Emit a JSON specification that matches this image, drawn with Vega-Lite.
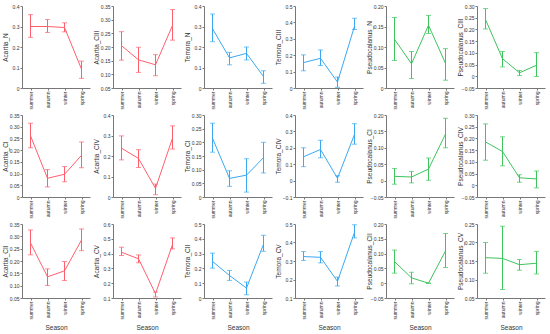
{
"$schema":"https://vega.github.io/schema/vega-lite/v6.json",
"padding":{"left":2,"top":4,"right":2,"bottom":2},
"datasets":{"d":[
{"panel":"Acartia_N","season":"summer","mean":0.30,"lo":0.247,"hi":0.358},
{"panel":"Acartia_N","season":"autumn","mean":0.30,"lo":0.271,"hi":0.334},
{"panel":"Acartia_N","season":"winter","mean":0.295,"lo":0.274,"hi":0.318},
{"panel":"Acartia_N","season":"spring","mean":0.092,"lo":0.047,"hi":0.131},
{"panel":"Acartia_CIII","season":"summer","mean":0.205,"lo":0.152,"hi":0.256},
{"panel":"Acartia_CIII","season":"autumn","mean":0.153,"lo":0.107,"hi":0.199},
{"panel":"Acartia_CIII","season":"winter","mean":0.135,"lo":0.095,"hi":0.172},
{"panel":"Acartia_CIII","season":"spring","mean":0.279,"lo":0.225,"hi":0.337},
{"panel":"Temora_N","season":"summer","mean":0.289,"lo":0.226,"hi":0.361},
{"panel":"Temora_N","season":"autumn","mean":0.147,"lo":0.113,"hi":0.174},
{"panel":"Temora_N","season":"winter","mean":0.169,"lo":0.137,"hi":0.2},
{"panel":"Temora_N","season":"spring","mean":0.056,"lo":0.023,"hi":0.084},
{"panel":"Temora_CIII","season":"summer","mean":0.155,"lo":0.105,"hi":0.202},
{"panel":"Temora_CIII","season":"autumn","mean":0.181,"lo":0.137,"hi":0.232},
{"panel":"Temora_CIII","season":"winter","mean":0.036,"lo":0.004,"hi":0.067},
{"panel":"Temora_CIII","season":"spring","mean":0.377,"lo":0.357,"hi":0.425},
{"panel":"Pseudocalanus_N","season":"summer","mean":0.119,"lo":0.067,"hi":0.172},
{"panel":"Pseudocalanus_N","season":"autumn","mean":0.059,"lo":0.023,"hi":0.089},
{"panel":"Pseudocalanus_N","season":"winter","mean":0.153,"lo":0.133,"hi":0.177},
{"panel":"Pseudocalanus_N","season":"spring","mean":0.06,"lo":0.019,"hi":0.096},
{"panel":"Pseudocalanus_CIII","season":"summer","mean":0.242,"lo":0.202,"hi":0.289},
{"panel":"Pseudocalanus_CIII","season":"autumn","mean":0.075,"lo":0.04,"hi":0.106},
{"panel":"Pseudocalanus_CIII","season":"winter","mean":0.015,"lo":0.003,"hi":0.025},
{"panel":"Pseudocalanus_CIII","season":"spring","mean":0.047,"lo":-0.001,"hi":0.101},
{"panel":"Acartia_CI","season":"summer","mean":0.261,"lo":0.21,"hi":0.315},
{"panel":"Acartia_CI","season":"autumn","mean":0.08,"lo":0.043,"hi":0.117},
{"panel":"Acartia_CI","season":"winter","mean":0.097,"lo":0.065,"hi":0.13},
{"panel":"Acartia_CI","season":"spring","mean":0.178,"lo":0.125,"hi":0.235},
{"panel":"Acartia_CIV","season":"summer","mean":0.238,"lo":0.181,"hi":0.298},
{"panel":"Acartia_CIV","season":"autumn","mean":0.188,"lo":0.144,"hi":0.231},
{"panel":"Acartia_CIV","season":"winter","mean":0.042,"lo":0.011,"hi":0.063},
{"panel":"Acartia_CIV","season":"spring","mean":0.287,"lo":0.234,"hi":0.347},
{"panel":"Temora_CI","season":"summer","mean":0.215,"lo":0.164,"hi":0.27},
{"panel":"Temora_CI","season":"autumn","mean":0.068,"lo":0.039,"hi":0.096},
{"panel":"Temora_CI","season":"winter","mean":0.08,"lo":0.018,"hi":0.14},
{"panel":"Temora_CI","season":"spring","mean":0.144,"lo":0.088,"hi":0.2},
{"panel":"Temora_CIV","season":"summer","mean":0.145,"lo":0.085,"hi":0.2},
{"panel":"Temora_CIV","season":"autumn","mean":0.19,"lo":0.139,"hi":0.246},
{"panel":"Temora_CIV","season":"winter","mean":0.014,"lo":-0.01,"hi":0.03},
{"panel":"Temora_CIV","season":"spring","mean":0.282,"lo":0.222,"hi":0.347},
{"panel":"Pseudocalanus_CI","season":"summer","mean":0.013,"lo":-0.011,"hi":0.037},
{"panel":"Pseudocalanus_CI","season":"autumn","mean":0.011,"lo":-0.007,"hi":0.028},
{"panel":"Pseudocalanus_CI","season":"winter","mean":0.035,"lo":0.001,"hi":0.069},
{"panel":"Pseudocalanus_CI","season":"spring","mean":0.142,"lo":0.1,"hi":0.19},
{"panel":"Pseudocalanus_CIV","season":"summer","mean":0.185,"lo":0.107,"hi":0.262},
{"panel":"Pseudocalanus_CIV","season":"autumn","mean":0.144,"lo":0.083,"hi":0.207},
{"panel":"Pseudocalanus_CIV","season":"winter","mean":0.032,"lo":0.013,"hi":0.045},
{"panel":"Pseudocalanus_CIV","season":"spring","mean":0.027,"lo":-0.011,"hi":0.061},
{"panel":"Acartia_CII","season":"summer","mean":0.273,"lo":0.225,"hi":0.326},
{"panel":"Acartia_CII","season":"autumn","mean":0.136,"lo":0.101,"hi":0.168},
{"panel":"Acartia_CII","season":"winter","mean":0.16,"lo":0.121,"hi":0.198},
{"panel":"Acartia_CII","season":"spring","mean":0.285,"lo":0.242,"hi":0.33},
{"panel":"Acartia_CV","season":"summer","mean":0.409,"lo":0.387,"hi":0.443},
{"panel":"Acartia_CV","season":"autumn","mean":0.365,"lo":0.338,"hi":0.391},
{"panel":"Acartia_CV","season":"winter","mean":0.129,"lo":0.107,"hi":0.14},
{"panel":"Acartia_CV","season":"spring","mean":0.461,"lo":0.432,"hi":0.506},
{"panel":"Temora_CII","season":"summer","mean":0.247,"lo":0.202,"hi":0.303},
{"panel":"Temora_CII","season":"autumn","mean":0.152,"lo":0.119,"hi":0.186},
{"panel":"Temora_CII","season":"winter","mean":0.067,"lo":0.022,"hi":0.108},
{"panel":"Temora_CII","season":"spring","mean":0.363,"lo":0.316,"hi":0.424},
{"panel":"Temora_CV","season":"summer","mean":0.324,"lo":0.303,"hi":0.351},
{"panel":"Temora_CV","season":"autumn","mean":0.32,"lo":0.29,"hi":0.351},
{"panel":"Temora_CV","season":"winter","mean":0.19,"lo":0.165,"hi":0.213},
{"panel":"Temora_CV","season":"spring","mean":0.455,"lo":0.425,"hi":0.496},
{"panel":"Pseudocalanus_CII","season":"summer","mean":0.073,"lo":0.034,"hi":0.112},
{"panel":"Pseudocalanus_CII","season":"autumn","mean":0.018,"lo":-0.002,"hi":0.037},
{"panel":"Pseudocalanus_CII","season":"winter","mean":0.0,"lo":0.0,"hi":0.0},
{"panel":"Pseudocalanus_CII","season":"spring","mean":0.109,"lo":0.053,"hi":0.168},
{"panel":"Pseudocalanus_CV","season":"summer","mean":0.159,"lo":0.117,"hi":0.2},
{"panel":"Pseudocalanus_CV","season":"autumn","mean":0.157,"lo":0.073,"hi":0.244},
{"panel":"Pseudocalanus_CV","season":"winter","mean":0.14,"lo":0.125,"hi":0.154},
{"panel":"Pseudocalanus_CV","season":"spring","mean":0.144,"lo":0.115,"hi":0.176}
]},
"columns":6,
"bounds":"flush",
"spacing":{"row":27,"column":23},
"concat":[
{"width":68,"height":82,"data":{"name":"d"},"transform":[{"filter":"datum.panel == 'Acartia_N'"}],
 "encoding":{"x":{"field":"season","type":"nominal","sort":["summer","autumn","winter","spring"],"scale":{"type":"point","padding":0.5},"axis":{"title":null}}},
 "layer":[
 {"mark":{"type":"line","color":"#ff5f6d","strokeWidth":1},"encoding":{"y":{"field":"mean","type":"quantitative","scale":{"domain":[0,0.4],"nice":false,"zero":false},"axis":{"title":"Acartia_N","values":[0,0.1,0.2,0.3,0.4],"labelOverlap":false,"labelExpr":"datum.value == 0 ? '0' : format(datum.value, '.1f')"}}}},
 {"mark":{"type":"rule","color":"#ff5f6d","strokeWidth":1},"encoding":{"y":{"field":"lo","type":"quantitative","axis":{"title":"Acartia_N","values":[0,0.1,0.2,0.3,0.4],"labelOverlap":false,"labelExpr":"datum.value == 0 ? '0' : format(datum.value, '.1f')"}},"y2":{"field":"hi"}}},
 {"mark":{"type":"tick","color":"#ff5f6d","size":5,"thickness":1},"encoding":{"y":{"field":"lo","type":"quantitative","axis":{"title":"Acartia_N","values":[0,0.1,0.2,0.3,0.4],"labelOverlap":false,"labelExpr":"datum.value == 0 ? '0' : format(datum.value, '.1f')"}}}},
 {"mark":{"type":"tick","color":"#ff5f6d","size":5,"thickness":1},"encoding":{"y":{"field":"hi","type":"quantitative","axis":{"title":"Acartia_N","values":[0,0.1,0.2,0.3,0.4],"labelOverlap":false,"labelExpr":"datum.value == 0 ? '0' : format(datum.value, '.1f')"}}}}
 ]},
{"width":68,"height":82,"data":{"name":"d"},"transform":[{"filter":"datum.panel == 'Acartia_CIII'"}],
 "encoding":{"x":{"field":"season","type":"nominal","sort":["summer","autumn","winter","spring"],"scale":{"type":"point","padding":0.5},"axis":{"title":null}}},
 "layer":[
 {"mark":{"type":"line","color":"#ff5f6d","strokeWidth":1},"encoding":{"y":{"field":"mean","type":"quantitative","scale":{"domain":[0.05,0.35],"nice":false,"zero":false},"axis":{"title":"Acartia_CIII","values":[0.05,0.1,0.15,0.2,0.25,0.3,0.35],"labelOverlap":false,"labelExpr":"format(datum.value, '.2f')"}}}},
 {"mark":{"type":"rule","color":"#ff5f6d","strokeWidth":1},"encoding":{"y":{"field":"lo","type":"quantitative","axis":{"title":"Acartia_CIII","values":[0.05,0.1,0.15,0.2,0.25,0.3,0.35],"labelOverlap":false,"labelExpr":"format(datum.value, '.2f')"}},"y2":{"field":"hi"}}},
 {"mark":{"type":"tick","color":"#ff5f6d","size":5,"thickness":1},"encoding":{"y":{"field":"lo","type":"quantitative","axis":{"title":"Acartia_CIII","values":[0.05,0.1,0.15,0.2,0.25,0.3,0.35],"labelOverlap":false,"labelExpr":"format(datum.value, '.2f')"}}}},
 {"mark":{"type":"tick","color":"#ff5f6d","size":5,"thickness":1},"encoding":{"y":{"field":"hi","type":"quantitative","axis":{"title":"Acartia_CIII","values":[0.05,0.1,0.15,0.2,0.25,0.3,0.35],"labelOverlap":false,"labelExpr":"format(datum.value, '.2f')"}}}}
 ]},
{"width":68,"height":82,"data":{"name":"d"},"transform":[{"filter":"datum.panel == 'Temora_N'"}],
 "encoding":{"x":{"field":"season","type":"nominal","sort":["summer","autumn","winter","spring"],"scale":{"type":"point","padding":0.5},"axis":{"title":null}}},
 "layer":[
 {"mark":{"type":"line","color":"#3aa9f2","strokeWidth":1},"encoding":{"y":{"field":"mean","type":"quantitative","scale":{"domain":[0,0.4],"nice":false,"zero":false},"axis":{"title":"Temora_N","values":[0,0.1,0.2,0.3,0.4],"labelOverlap":false,"labelExpr":"datum.value == 0 ? '0' : format(datum.value, '.1f')"}}}},
 {"mark":{"type":"rule","color":"#3aa9f2","strokeWidth":1},"encoding":{"y":{"field":"lo","type":"quantitative","axis":{"title":"Temora_N","values":[0,0.1,0.2,0.3,0.4],"labelOverlap":false,"labelExpr":"datum.value == 0 ? '0' : format(datum.value, '.1f')"}},"y2":{"field":"hi"}}},
 {"mark":{"type":"tick","color":"#3aa9f2","size":5,"thickness":1},"encoding":{"y":{"field":"lo","type":"quantitative","axis":{"title":"Temora_N","values":[0,0.1,0.2,0.3,0.4],"labelOverlap":false,"labelExpr":"datum.value == 0 ? '0' : format(datum.value, '.1f')"}}}},
 {"mark":{"type":"tick","color":"#3aa9f2","size":5,"thickness":1},"encoding":{"y":{"field":"hi","type":"quantitative","axis":{"title":"Temora_N","values":[0,0.1,0.2,0.3,0.4],"labelOverlap":false,"labelExpr":"datum.value == 0 ? '0' : format(datum.value, '.1f')"}}}}
 ]},
{"width":68,"height":82,"data":{"name":"d"},"transform":[{"filter":"datum.panel == 'Temora_CIII'"}],
 "encoding":{"x":{"field":"season","type":"nominal","sort":["summer","autumn","winter","spring"],"scale":{"type":"point","padding":0.5},"axis":{"title":null}}},
 "layer":[
 {"mark":{"type":"line","color":"#3aa9f2","strokeWidth":1},"encoding":{"y":{"field":"mean","type":"quantitative","scale":{"domain":[0,0.5],"nice":false,"zero":false},"axis":{"title":"Temora_CIII","values":[0,0.1,0.2,0.3,0.4,0.5],"labelOverlap":false,"labelExpr":"datum.value == 0 ? '0' : format(datum.value, '.1f')"}}}},
 {"mark":{"type":"rule","color":"#3aa9f2","strokeWidth":1},"encoding":{"y":{"field":"lo","type":"quantitative","axis":{"title":"Temora_CIII","values":[0,0.1,0.2,0.3,0.4,0.5],"labelOverlap":false,"labelExpr":"datum.value == 0 ? '0' : format(datum.value, '.1f')"}},"y2":{"field":"hi"}}},
 {"mark":{"type":"tick","color":"#3aa9f2","size":5,"thickness":1},"encoding":{"y":{"field":"lo","type":"quantitative","axis":{"title":"Temora_CIII","values":[0,0.1,0.2,0.3,0.4,0.5],"labelOverlap":false,"labelExpr":"datum.value == 0 ? '0' : format(datum.value, '.1f')"}}}},
 {"mark":{"type":"tick","color":"#3aa9f2","size":5,"thickness":1},"encoding":{"y":{"field":"hi","type":"quantitative","axis":{"title":"Temora_CIII","values":[0,0.1,0.2,0.3,0.4,0.5],"labelOverlap":false,"labelExpr":"datum.value == 0 ? '0' : format(datum.value, '.1f')"}}}}
 ]},
{"width":68,"height":82,"data":{"name":"d"},"transform":[{"filter":"datum.panel == 'Pseudocalanus_N'"}],
 "encoding":{"x":{"field":"season","type":"nominal","sort":["summer","autumn","winter","spring"],"scale":{"type":"point","padding":0.5},"axis":{"title":null}}},
 "layer":[
 {"mark":{"type":"line","color":"#3ec45c","strokeWidth":1},"encoding":{"y":{"field":"mean","type":"quantitative","scale":{"domain":[0,0.2],"nice":false,"zero":false},"axis":{"title":"Pseudocalanus_N","values":[0,0.05,0.1,0.15,0.2],"labelOverlap":false,"labelExpr":"datum.value == 0 ? '0' : format(datum.value, '.2f')"}}}},
 {"mark":{"type":"rule","color":"#3ec45c","strokeWidth":1},"encoding":{"y":{"field":"lo","type":"quantitative","axis":{"title":"Pseudocalanus_N","values":[0,0.05,0.1,0.15,0.2],"labelOverlap":false,"labelExpr":"datum.value == 0 ? '0' : format(datum.value, '.2f')"}},"y2":{"field":"hi"}}},
 {"mark":{"type":"tick","color":"#3ec45c","size":5,"thickness":1},"encoding":{"y":{"field":"lo","type":"quantitative","axis":{"title":"Pseudocalanus_N","values":[0,0.05,0.1,0.15,0.2],"labelOverlap":false,"labelExpr":"datum.value == 0 ? '0' : format(datum.value, '.2f')"}}}},
 {"mark":{"type":"tick","color":"#3ec45c","size":5,"thickness":1},"encoding":{"y":{"field":"hi","type":"quantitative","axis":{"title":"Pseudocalanus_N","values":[0,0.05,0.1,0.15,0.2],"labelOverlap":false,"labelExpr":"datum.value == 0 ? '0' : format(datum.value, '.2f')"}}}}
 ]},
{"width":68,"height":82,"data":{"name":"d"},"transform":[{"filter":"datum.panel == 'Pseudocalanus_CIII'"}],
 "encoding":{"x":{"field":"season","type":"nominal","sort":["summer","autumn","winter","spring"],"scale":{"type":"point","padding":0.5},"axis":{"title":null}}},
 "layer":[
 {"mark":{"type":"line","color":"#3ec45c","strokeWidth":1},"encoding":{"y":{"field":"mean","type":"quantitative","scale":{"domain":[-0.05,0.3],"nice":false,"zero":false},"axis":{"title":"Pseudocalanus_CIII","values":[-0.05,0,0.05,0.1,0.15,0.2,0.25,0.3],"labelOverlap":false,"labelExpr":"abs(datum.value) < 1e-9 ? '0' : format(datum.value, '.2f')"}}}},
 {"mark":{"type":"rule","color":"#3ec45c","strokeWidth":1},"encoding":{"y":{"field":"lo","type":"quantitative","axis":{"title":"Pseudocalanus_CIII","values":[-0.05,0,0.05,0.1,0.15,0.2,0.25,0.3],"labelOverlap":false,"labelExpr":"abs(datum.value) < 1e-9 ? '0' : format(datum.value, '.2f')"}},"y2":{"field":"hi"}}},
 {"mark":{"type":"tick","color":"#3ec45c","size":5,"thickness":1},"encoding":{"y":{"field":"lo","type":"quantitative","axis":{"title":"Pseudocalanus_CIII","values":[-0.05,0,0.05,0.1,0.15,0.2,0.25,0.3],"labelOverlap":false,"labelExpr":"abs(datum.value) < 1e-9 ? '0' : format(datum.value, '.2f')"}}}},
 {"mark":{"type":"tick","color":"#3ec45c","size":5,"thickness":1},"encoding":{"y":{"field":"hi","type":"quantitative","axis":{"title":"Pseudocalanus_CIII","values":[-0.05,0,0.05,0.1,0.15,0.2,0.25,0.3],"labelOverlap":false,"labelExpr":"abs(datum.value) < 1e-9 ? '0' : format(datum.value, '.2f')"}}}}
 ]},
{"width":68,"height":82,"data":{"name":"d"},"transform":[{"filter":"datum.panel == 'Acartia_CI'"}],
 "encoding":{"x":{"field":"season","type":"nominal","sort":["summer","autumn","winter","spring"],"scale":{"type":"point","padding":0.5},"axis":{"title":null}}},
 "layer":[
 {"mark":{"type":"line","color":"#ff5f6d","strokeWidth":1},"encoding":{"y":{"field":"mean","type":"quantitative","scale":{"domain":[0,0.35],"nice":false,"zero":false},"axis":{"title":"Acartia_CI","values":[0,0.05,0.1,0.15,0.2,0.25,0.3,0.35],"labelOverlap":false,"labelExpr":"datum.value == 0 ? '0' : format(datum.value, '.2f')"}}}},
 {"mark":{"type":"rule","color":"#ff5f6d","strokeWidth":1},"encoding":{"y":{"field":"lo","type":"quantitative","axis":{"title":"Acartia_CI","values":[0,0.05,0.1,0.15,0.2,0.25,0.3,0.35],"labelOverlap":false,"labelExpr":"datum.value == 0 ? '0' : format(datum.value, '.2f')"}},"y2":{"field":"hi"}}},
 {"mark":{"type":"tick","color":"#ff5f6d","size":5,"thickness":1},"encoding":{"y":{"field":"lo","type":"quantitative","axis":{"title":"Acartia_CI","values":[0,0.05,0.1,0.15,0.2,0.25,0.3,0.35],"labelOverlap":false,"labelExpr":"datum.value == 0 ? '0' : format(datum.value, '.2f')"}}}},
 {"mark":{"type":"tick","color":"#ff5f6d","size":5,"thickness":1},"encoding":{"y":{"field":"hi","type":"quantitative","axis":{"title":"Acartia_CI","values":[0,0.05,0.1,0.15,0.2,0.25,0.3,0.35],"labelOverlap":false,"labelExpr":"datum.value == 0 ? '0' : format(datum.value, '.2f')"}}}}
 ]},
{"width":68,"height":82,"data":{"name":"d"},"transform":[{"filter":"datum.panel == 'Acartia_CIV'"}],
 "encoding":{"x":{"field":"season","type":"nominal","sort":["summer","autumn","winter","spring"],"scale":{"type":"point","padding":0.5},"axis":{"title":null}}},
 "layer":[
 {"mark":{"type":"line","color":"#ff5f6d","strokeWidth":1},"encoding":{"y":{"field":"mean","type":"quantitative","scale":{"domain":[0,0.4],"nice":false,"zero":false},"axis":{"title":"Acartia_CIV","values":[0,0.1,0.2,0.3,0.4],"labelOverlap":false,"labelExpr":"datum.value == 0 ? '0' : format(datum.value, '.1f')"}}}},
 {"mark":{"type":"rule","color":"#ff5f6d","strokeWidth":1},"encoding":{"y":{"field":"lo","type":"quantitative","axis":{"title":"Acartia_CIV","values":[0,0.1,0.2,0.3,0.4],"labelOverlap":false,"labelExpr":"datum.value == 0 ? '0' : format(datum.value, '.1f')"}},"y2":{"field":"hi"}}},
 {"mark":{"type":"tick","color":"#ff5f6d","size":5,"thickness":1},"encoding":{"y":{"field":"lo","type":"quantitative","axis":{"title":"Acartia_CIV","values":[0,0.1,0.2,0.3,0.4],"labelOverlap":false,"labelExpr":"datum.value == 0 ? '0' : format(datum.value, '.1f')"}}}},
 {"mark":{"type":"tick","color":"#ff5f6d","size":5,"thickness":1},"encoding":{"y":{"field":"hi","type":"quantitative","axis":{"title":"Acartia_CIV","values":[0,0.1,0.2,0.3,0.4],"labelOverlap":false,"labelExpr":"datum.value == 0 ? '0' : format(datum.value, '.1f')"}}}}
 ]},
{"width":68,"height":82,"data":{"name":"d"},"transform":[{"filter":"datum.panel == 'Temora_CI'"}],
 "encoding":{"x":{"field":"season","type":"nominal","sort":["summer","autumn","winter","spring"],"scale":{"type":"point","padding":0.5},"axis":{"title":null}}},
 "layer":[
 {"mark":{"type":"line","color":"#3aa9f2","strokeWidth":1},"encoding":{"y":{"field":"mean","type":"quantitative","scale":{"domain":[0,0.3],"nice":false,"zero":false},"axis":{"title":"Temora_CI","values":[0,0.05,0.1,0.15,0.2,0.25,0.3],"labelOverlap":false,"labelExpr":"datum.value == 0 ? '0' : format(datum.value, '.2f')"}}}},
 {"mark":{"type":"rule","color":"#3aa9f2","strokeWidth":1},"encoding":{"y":{"field":"lo","type":"quantitative","axis":{"title":"Temora_CI","values":[0,0.05,0.1,0.15,0.2,0.25,0.3],"labelOverlap":false,"labelExpr":"datum.value == 0 ? '0' : format(datum.value, '.2f')"}},"y2":{"field":"hi"}}},
 {"mark":{"type":"tick","color":"#3aa9f2","size":5,"thickness":1},"encoding":{"y":{"field":"lo","type":"quantitative","axis":{"title":"Temora_CI","values":[0,0.05,0.1,0.15,0.2,0.25,0.3],"labelOverlap":false,"labelExpr":"datum.value == 0 ? '0' : format(datum.value, '.2f')"}}}},
 {"mark":{"type":"tick","color":"#3aa9f2","size":5,"thickness":1},"encoding":{"y":{"field":"hi","type":"quantitative","axis":{"title":"Temora_CI","values":[0,0.05,0.1,0.15,0.2,0.25,0.3],"labelOverlap":false,"labelExpr":"datum.value == 0 ? '0' : format(datum.value, '.2f')"}}}}
 ]},
{"width":68,"height":82,"data":{"name":"d"},"transform":[{"filter":"datum.panel == 'Temora_CIV'"}],
 "encoding":{"x":{"field":"season","type":"nominal","sort":["summer","autumn","winter","spring"],"scale":{"type":"point","padding":0.5},"axis":{"title":null}}},
 "layer":[
 {"mark":{"type":"line","color":"#3aa9f2","strokeWidth":1},"encoding":{"y":{"field":"mean","type":"quantitative","scale":{"domain":[-0.1,0.4],"nice":false,"zero":false},"axis":{"title":"Temora_CIV","values":[-0.1,0,0.1,0.2,0.3,0.4],"labelOverlap":false,"labelExpr":"abs(datum.value) < 1e-9 ? '0' : format(datum.value, '.1f')"}}}},
 {"mark":{"type":"rule","color":"#3aa9f2","strokeWidth":1},"encoding":{"y":{"field":"lo","type":"quantitative","axis":{"title":"Temora_CIV","values":[-0.1,0,0.1,0.2,0.3,0.4],"labelOverlap":false,"labelExpr":"abs(datum.value) < 1e-9 ? '0' : format(datum.value, '.1f')"}},"y2":{"field":"hi"}}},
 {"mark":{"type":"tick","color":"#3aa9f2","size":5,"thickness":1},"encoding":{"y":{"field":"lo","type":"quantitative","axis":{"title":"Temora_CIV","values":[-0.1,0,0.1,0.2,0.3,0.4],"labelOverlap":false,"labelExpr":"abs(datum.value) < 1e-9 ? '0' : format(datum.value, '.1f')"}}}},
 {"mark":{"type":"tick","color":"#3aa9f2","size":5,"thickness":1},"encoding":{"y":{"field":"hi","type":"quantitative","axis":{"title":"Temora_CIV","values":[-0.1,0,0.1,0.2,0.3,0.4],"labelOverlap":false,"labelExpr":"abs(datum.value) < 1e-9 ? '0' : format(datum.value, '.1f')"}}}}
 ]},
{"width":68,"height":82,"data":{"name":"d"},"transform":[{"filter":"datum.panel == 'Pseudocalanus_CI'"}],
 "encoding":{"x":{"field":"season","type":"nominal","sort":["summer","autumn","winter","spring"],"scale":{"type":"point","padding":0.5},"axis":{"title":null}}},
 "layer":[
 {"mark":{"type":"line","color":"#3ec45c","strokeWidth":1},"encoding":{"y":{"field":"mean","type":"quantitative","scale":{"domain":[-0.05,0.2],"nice":false,"zero":false},"axis":{"title":"Pseudocalanus_CI","values":[-0.05,0,0.05,0.1,0.15,0.2],"labelOverlap":false,"labelExpr":"abs(datum.value) < 1e-9 ? '0' : format(datum.value, '.2f')"}}}},
 {"mark":{"type":"rule","color":"#3ec45c","strokeWidth":1},"encoding":{"y":{"field":"lo","type":"quantitative","axis":{"title":"Pseudocalanus_CI","values":[-0.05,0,0.05,0.1,0.15,0.2],"labelOverlap":false,"labelExpr":"abs(datum.value) < 1e-9 ? '0' : format(datum.value, '.2f')"}},"y2":{"field":"hi"}}},
 {"mark":{"type":"tick","color":"#3ec45c","size":5,"thickness":1},"encoding":{"y":{"field":"lo","type":"quantitative","axis":{"title":"Pseudocalanus_CI","values":[-0.05,0,0.05,0.1,0.15,0.2],"labelOverlap":false,"labelExpr":"abs(datum.value) < 1e-9 ? '0' : format(datum.value, '.2f')"}}}},
 {"mark":{"type":"tick","color":"#3ec45c","size":5,"thickness":1},"encoding":{"y":{"field":"hi","type":"quantitative","axis":{"title":"Pseudocalanus_CI","values":[-0.05,0,0.05,0.1,0.15,0.2],"labelOverlap":false,"labelExpr":"abs(datum.value) < 1e-9 ? '0' : format(datum.value, '.2f')"}}}}
 ]},
{"width":68,"height":82,"data":{"name":"d"},"transform":[{"filter":"datum.panel == 'Pseudocalanus_CIV'"}],
 "encoding":{"x":{"field":"season","type":"nominal","sort":["summer","autumn","winter","spring"],"scale":{"type":"point","padding":0.5},"axis":{"title":null}}},
 "layer":[
 {"mark":{"type":"line","color":"#3ec45c","strokeWidth":1},"encoding":{"y":{"field":"mean","type":"quantitative","scale":{"domain":[-0.05,0.3],"nice":false,"zero":false},"axis":{"title":"Pseudocalanus_CIV","values":[-0.05,0,0.05,0.1,0.15,0.2,0.25,0.3],"labelOverlap":false,"labelExpr":"abs(datum.value) < 1e-9 ? '0' : format(datum.value, '.2f')"}}}},
 {"mark":{"type":"rule","color":"#3ec45c","strokeWidth":1},"encoding":{"y":{"field":"lo","type":"quantitative","axis":{"title":"Pseudocalanus_CIV","values":[-0.05,0,0.05,0.1,0.15,0.2,0.25,0.3],"labelOverlap":false,"labelExpr":"abs(datum.value) < 1e-9 ? '0' : format(datum.value, '.2f')"}},"y2":{"field":"hi"}}},
 {"mark":{"type":"tick","color":"#3ec45c","size":5,"thickness":1},"encoding":{"y":{"field":"lo","type":"quantitative","axis":{"title":"Pseudocalanus_CIV","values":[-0.05,0,0.05,0.1,0.15,0.2,0.25,0.3],"labelOverlap":false,"labelExpr":"abs(datum.value) < 1e-9 ? '0' : format(datum.value, '.2f')"}}}},
 {"mark":{"type":"tick","color":"#3ec45c","size":5,"thickness":1},"encoding":{"y":{"field":"hi","type":"quantitative","axis":{"title":"Pseudocalanus_CIV","values":[-0.05,0,0.05,0.1,0.15,0.2,0.25,0.3],"labelOverlap":false,"labelExpr":"abs(datum.value) < 1e-9 ? '0' : format(datum.value, '.2f')"}}}}
 ]},
{"width":68,"height":74,"data":{"name":"d"},"transform":[{"filter":"datum.panel == 'Acartia_CII'"}],
 "encoding":{"x":{"field":"season","type":"nominal","sort":["summer","autumn","winter","spring"],"scale":{"type":"point","padding":0.5},"axis":{"title":"Season"}}},
 "layer":[
 {"mark":{"type":"line","color":"#ff5f6d","strokeWidth":1},"encoding":{"y":{"field":"mean","type":"quantitative","scale":{"domain":[0.05,0.35],"nice":false,"zero":false},"axis":{"title":"Acartia_CII","values":[0.05,0.1,0.15,0.2,0.25,0.3,0.35],"labelOverlap":false,"labelExpr":"format(datum.value, '.2f')"}}}},
 {"mark":{"type":"rule","color":"#ff5f6d","strokeWidth":1},"encoding":{"y":{"field":"lo","type":"quantitative","axis":{"title":"Acartia_CII","values":[0.05,0.1,0.15,0.2,0.25,0.3,0.35],"labelOverlap":false,"labelExpr":"format(datum.value, '.2f')"}},"y2":{"field":"hi"}}},
 {"mark":{"type":"tick","color":"#ff5f6d","size":5,"thickness":1},"encoding":{"y":{"field":"lo","type":"quantitative","axis":{"title":"Acartia_CII","values":[0.05,0.1,0.15,0.2,0.25,0.3,0.35],"labelOverlap":false,"labelExpr":"format(datum.value, '.2f')"}}}},
 {"mark":{"type":"tick","color":"#ff5f6d","size":5,"thickness":1},"encoding":{"y":{"field":"hi","type":"quantitative","axis":{"title":"Acartia_CII","values":[0.05,0.1,0.15,0.2,0.25,0.3,0.35],"labelOverlap":false,"labelExpr":"format(datum.value, '.2f')"}}}}
 ]},
{"width":68,"height":74,"data":{"name":"d"},"transform":[{"filter":"datum.panel == 'Acartia_CV'"}],
 "encoding":{"x":{"field":"season","type":"nominal","sort":["summer","autumn","winter","spring"],"scale":{"type":"point","padding":0.5},"axis":{"title":"Season"}}},
 "layer":[
 {"mark":{"type":"line","color":"#ff5f6d","strokeWidth":1},"encoding":{"y":{"field":"mean","type":"quantitative","scale":{"domain":[0.1,0.6],"nice":false,"zero":false},"axis":{"title":"Acartia_CV","values":[0.1,0.2,0.3,0.4,0.5,0.6],"labelOverlap":false,"labelExpr":"format(datum.value, '.1f')"}}}},
 {"mark":{"type":"rule","color":"#ff5f6d","strokeWidth":1},"encoding":{"y":{"field":"lo","type":"quantitative","axis":{"title":"Acartia_CV","values":[0.1,0.2,0.3,0.4,0.5,0.6],"labelOverlap":false,"labelExpr":"format(datum.value, '.1f')"}},"y2":{"field":"hi"}}},
 {"mark":{"type":"tick","color":"#ff5f6d","size":5,"thickness":1},"encoding":{"y":{"field":"lo","type":"quantitative","axis":{"title":"Acartia_CV","values":[0.1,0.2,0.3,0.4,0.5,0.6],"labelOverlap":false,"labelExpr":"format(datum.value, '.1f')"}}}},
 {"mark":{"type":"tick","color":"#ff5f6d","size":5,"thickness":1},"encoding":{"y":{"field":"hi","type":"quantitative","axis":{"title":"Acartia_CV","values":[0.1,0.2,0.3,0.4,0.5,0.6],"labelOverlap":false,"labelExpr":"format(datum.value, '.1f')"}}}}
 ]},
{"width":68,"height":74,"data":{"name":"d"},"transform":[{"filter":"datum.panel == 'Temora_CII'"}],
 "encoding":{"x":{"field":"season","type":"nominal","sort":["summer","autumn","winter","spring"],"scale":{"type":"point","padding":0.5},"axis":{"title":"Season"}}},
 "layer":[
 {"mark":{"type":"line","color":"#3aa9f2","strokeWidth":1},"encoding":{"y":{"field":"mean","type":"quantitative","scale":{"domain":[0,0.5],"nice":false,"zero":false},"axis":{"title":"Temora_CII","values":[0,0.1,0.2,0.3,0.4,0.5],"labelOverlap":false,"labelExpr":"datum.value == 0 ? '0' : format(datum.value, '.1f')"}}}},
 {"mark":{"type":"rule","color":"#3aa9f2","strokeWidth":1},"encoding":{"y":{"field":"lo","type":"quantitative","axis":{"title":"Temora_CII","values":[0,0.1,0.2,0.3,0.4,0.5],"labelOverlap":false,"labelExpr":"datum.value == 0 ? '0' : format(datum.value, '.1f')"}},"y2":{"field":"hi"}}},
 {"mark":{"type":"tick","color":"#3aa9f2","size":5,"thickness":1},"encoding":{"y":{"field":"lo","type":"quantitative","axis":{"title":"Temora_CII","values":[0,0.1,0.2,0.3,0.4,0.5],"labelOverlap":false,"labelExpr":"datum.value == 0 ? '0' : format(datum.value, '.1f')"}}}},
 {"mark":{"type":"tick","color":"#3aa9f2","size":5,"thickness":1},"encoding":{"y":{"field":"hi","type":"quantitative","axis":{"title":"Temora_CII","values":[0,0.1,0.2,0.3,0.4,0.5],"labelOverlap":false,"labelExpr":"datum.value == 0 ? '0' : format(datum.value, '.1f')"}}}}
 ]},
{"width":68,"height":74,"data":{"name":"d"},"transform":[{"filter":"datum.panel == 'Temora_CV'"}],
 "encoding":{"x":{"field":"season","type":"nominal","sort":["summer","autumn","winter","spring"],"scale":{"type":"point","padding":0.5},"axis":{"title":"Season"}}},
 "layer":[
 {"mark":{"type":"line","color":"#3aa9f2","strokeWidth":1},"encoding":{"y":{"field":"mean","type":"quantitative","scale":{"domain":[0.1,0.5],"nice":false,"zero":false},"axis":{"title":"Temora_CV","values":[0.1,0.2,0.3,0.4,0.5],"labelOverlap":false,"labelExpr":"format(datum.value, '.1f')"}}}},
 {"mark":{"type":"rule","color":"#3aa9f2","strokeWidth":1},"encoding":{"y":{"field":"lo","type":"quantitative","axis":{"title":"Temora_CV","values":[0.1,0.2,0.3,0.4,0.5],"labelOverlap":false,"labelExpr":"format(datum.value, '.1f')"}},"y2":{"field":"hi"}}},
 {"mark":{"type":"tick","color":"#3aa9f2","size":5,"thickness":1},"encoding":{"y":{"field":"lo","type":"quantitative","axis":{"title":"Temora_CV","values":[0.1,0.2,0.3,0.4,0.5],"labelOverlap":false,"labelExpr":"format(datum.value, '.1f')"}}}},
 {"mark":{"type":"tick","color":"#3aa9f2","size":5,"thickness":1},"encoding":{"y":{"field":"hi","type":"quantitative","axis":{"title":"Temora_CV","values":[0.1,0.2,0.3,0.4,0.5],"labelOverlap":false,"labelExpr":"format(datum.value, '.1f')"}}}}
 ]},
{"width":68,"height":74,"data":{"name":"d"},"transform":[{"filter":"datum.panel == 'Pseudocalanus_CII'"}],
 "encoding":{"x":{"field":"season","type":"nominal","sort":["summer","autumn","winter","spring"],"scale":{"type":"point","padding":0.5},"axis":{"title":"Season"}}},
 "layer":[
 {"mark":{"type":"line","color":"#3ec45c","strokeWidth":1},"encoding":{"y":{"field":"mean","type":"quantitative","scale":{"domain":[-0.05,0.2],"nice":false,"zero":false},"axis":{"title":"Pseudocalanus_CII","values":[-0.05,0,0.05,0.1,0.15,0.2],"labelOverlap":false,"labelExpr":"abs(datum.value) < 1e-9 ? '0' : format(datum.value, '.2f')"}}}},
 {"mark":{"type":"rule","color":"#3ec45c","strokeWidth":1},"encoding":{"y":{"field":"lo","type":"quantitative","axis":{"title":"Pseudocalanus_CII","values":[-0.05,0,0.05,0.1,0.15,0.2],"labelOverlap":false,"labelExpr":"abs(datum.value) < 1e-9 ? '0' : format(datum.value, '.2f')"}},"y2":{"field":"hi"}}},
 {"mark":{"type":"tick","color":"#3ec45c","size":5,"thickness":1},"encoding":{"y":{"field":"lo","type":"quantitative","axis":{"title":"Pseudocalanus_CII","values":[-0.05,0,0.05,0.1,0.15,0.2],"labelOverlap":false,"labelExpr":"abs(datum.value) < 1e-9 ? '0' : format(datum.value, '.2f')"}}}},
 {"mark":{"type":"tick","color":"#3ec45c","size":5,"thickness":1},"encoding":{"y":{"field":"hi","type":"quantitative","axis":{"title":"Pseudocalanus_CII","values":[-0.05,0,0.05,0.1,0.15,0.2],"labelOverlap":false,"labelExpr":"abs(datum.value) < 1e-9 ? '0' : format(datum.value, '.2f')"}}}}
 ]},
{"width":68,"height":74,"data":{"name":"d"},"transform":[{"filter":"datum.panel == 'Pseudocalanus_CV'"}],
 "encoding":{"x":{"field":"season","type":"nominal","sort":["summer","autumn","winter","spring"],"scale":{"type":"point","padding":0.5},"axis":{"title":"Season"}}},
 "layer":[
 {"mark":{"type":"line","color":"#3ec45c","strokeWidth":1},"encoding":{"y":{"field":"mean","type":"quantitative","scale":{"domain":[0.05,0.25],"nice":false,"zero":false},"axis":{"title":"Pseudocalanus_CV","values":[0.05,0.1,0.15,0.2,0.25],"labelOverlap":false,"labelExpr":"format(datum.value, '.2f')"}}}},
 {"mark":{"type":"rule","color":"#3ec45c","strokeWidth":1},"encoding":{"y":{"field":"lo","type":"quantitative","axis":{"title":"Pseudocalanus_CV","values":[0.05,0.1,0.15,0.2,0.25],"labelOverlap":false,"labelExpr":"format(datum.value, '.2f')"}},"y2":{"field":"hi"}}},
 {"mark":{"type":"tick","color":"#3ec45c","size":5,"thickness":1},"encoding":{"y":{"field":"lo","type":"quantitative","axis":{"title":"Pseudocalanus_CV","values":[0.05,0.1,0.15,0.2,0.25],"labelOverlap":false,"labelExpr":"format(datum.value, '.2f')"}}}},
 {"mark":{"type":"tick","color":"#3ec45c","size":5,"thickness":1},"encoding":{"y":{"field":"hi","type":"quantitative","axis":{"title":"Pseudocalanus_CV","values":[0.05,0.1,0.15,0.2,0.25],"labelOverlap":false,"labelExpr":"format(datum.value, '.2f')"}}}}
 ]}
],
"config":{
 "view":{"stroke":null},
 "font":"Liberation Sans",
 "axis":{"labelFontSize":5,"titleFontSize":6.5,"titleFontWeight":"normal","domainColor":"#777777","tickColor":"#777777","tickSize":2,"labelColor":"#333333","titleColor":"#333333","grid":false,"labelPadding":1,"labelOverlap":false,"labelFlush":false},
 "axisY":{"minExtent":13,"maxExtent":13,"titlePadding":1},
 "axisX":{"labelAngle":-90,"titlePadding":5}
}
}
